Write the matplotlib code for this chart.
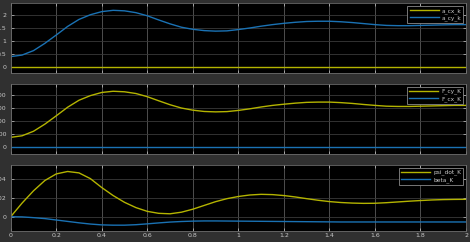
"""Scope-style figure: accelerations, forces and yaw rate / slip angle."""

import numpy as np
import matplotlib
matplotlib.use('Agg')
import matplotlib.pyplot as plt

# -----------------------------------------------------------------------------
# Data (step 0.05 s)
# -----------------------------------------------------------------------------
t = np.round(np.arange(0, 2.0001, 0.05), 2)

a_cx_k = [0.0] * 41
a_cy_k = [0.39, 0.45, 0.62, 0.90, 1.22, 1.55, 1.82, 2.00, 2.12, 2.17,
          2.15, 2.08, 1.96, 1.80, 1.65, 1.52, 1.44, 1.39, 1.37, 1.38,
          1.43, 1.49, 1.56, 1.62, 1.67, 1.71, 1.74, 1.75, 1.75, 1.73,
          1.70, 1.66, 1.62, 1.59, 1.58, 1.58, 1.59, 1.60, 1.61, 1.62, 1.62]

F_cy_K = [760, 880, 1220, 1760, 2390, 3040, 3570, 3920, 4160, 4250,
          4210, 4080, 3840, 3530, 3230, 2980, 2820, 2720, 2690, 2710,
          2800, 2920, 3060, 3180, 3270, 3350, 3410, 3430, 3430, 3390,
          3330, 3250, 3180, 3120, 3100, 3100, 3120, 3140, 3160, 3180, 3180]
F_cx_K = [0.0] * 41

psi_dot_K = [0.0, 0.0145, 0.0275, 0.0385, 0.0455, 0.0481, 0.0466, 0.0405, 0.0310, 0.0225,
             0.0153, 0.0097, 0.0057, 0.0036, 0.0031, 0.0048, 0.0080, 0.0120, 0.0160, 0.0192,
             0.0215, 0.0231, 0.0238, 0.0235, 0.0225, 0.0210, 0.0192, 0.0175, 0.0161, 0.0151,
             0.0145, 0.0142, 0.0143, 0.0149, 0.0157, 0.0165, 0.0172, 0.0178, 0.0182,
             0.0184, 0.0185]
beta_K = [0.0, -0.0002, -0.001, -0.002, -0.0035, -0.005, -0.0065, -0.0078, -0.0087,
          -0.009, -0.009, -0.0085, -0.0076, -0.0066, -0.0057, -0.0051, -0.0047, -0.0045,
          -0.0045, -0.0046, -0.0047, -0.0048, -0.0049, -0.005, -0.0051, -0.0052,
          -0.0053, -0.0054, -0.0055, -0.0056, -0.0056, -0.0056, -0.0056, -0.0056,
          -0.0056, -0.0056, -0.0056, -0.0056, -0.0056, -0.0056, -0.0056]

x_ticks = [0, 0.2, 0.4, 0.6, 0.8, 1.0, 1.2, 1.4, 1.6, 1.8, 2.0]
x_labels = ['0', '0.2', '0.4', '0.6', '0.8', '1', '1.2', '1.4', '1.6', '1.8', '2']

# -----------------------------------------------------------------------------
# Style
# -----------------------------------------------------------------------------
AMARILLO = '#b4b400'
AZUL = '#1a72b4'
FONDO_FIG = '#303030'
GRIS_TXT = '#c8c8c8'

W, H = 470, 242
fig = plt.figure(figsize=(W / 100, H / 100), dpi=100, facecolor=FONDO_FIG)


def panel(x0, y0, x1, y1):
    """Axes from pixel box (top-left origin)."""
    return fig.add_axes([x0 / W, 1 - y1 / H, (x1 - x0) / W, (y1 - y0) / H])


paneles = [
    (panel(10.7, 3.3, 466.0, 73.0), (a_cx_k, a_cy_k), ('a_cx_k', 'a_cy_k'),
     (-0.24, 2.44), [0, 0.5, 1, 1.5, 2], ['0', '0.5', '1', '1.5', '2']),
    (panel(10.7, 84.0, 466.0, 154.0), (F_cy_K, F_cx_K), ('F_cy_K', 'F_cx_K'),
     (-500, 4800), [0, 1000, 2000, 3000, 4000], ['0', '1000', '2000', '3000', '4000']),
    (panel(10.7, 165.0, 466.0, 231.0), (psi_dot_K, beta_K), ('psi_dot_K', 'beta_K'),
     (-0.0152, 0.055), [0, 0.02, 0.04], ['0', '0.02', '0.04']),
]

for i, (ax, series, nombres, ylim, yt, ytl) in enumerate(paneles):
    ax.set_facecolor('black')
    for serie, nombre, color in zip(series, nombres, [AMARILLO, AZUL]):
        ax.plot(t, serie, color=color, linewidth=1.0, label=nombre,
                solid_joinstyle='round')

    ax.set_xlim(0, 2)
    ax.set_ylim(*ylim)
    ax.set_xticks(x_ticks)
    ax.set_yticks(yt)
    ax.set_yticklabels(ytl)
    if i == 2:
        ax.set_xticklabels(x_labels)
    else:
        ax.set_xticklabels([])

    ax.tick_params(colors=GRIS_TXT, labelsize=4.5, direction='in', length=2,
                   width=0.5, top=True, right=True, pad=1.5)
    ax.tick_params(axis='y', pad=3)
    ax.xaxis.grid(True, color='#5a5a5a', linewidth=0.6)
    ax.yaxis.grid(True, color='#3a3a3a', linewidth=0.6)
    ax.set_axisbelow(True)
    for s in ax.spines.values():
        s.set_color('#6a6a6a')
        s.set_linewidth(0.6)

    leg = ax.legend(loc='upper right', fontsize=4.2, frameon=True,
                    facecolor='black', edgecolor='#8a8a8a', handlelength=5.0,
                    borderpad=0.35, labelspacing=0.25, handletextpad=0.5,
                    borderaxespad=0.45, framealpha=1.0, fancybox=False)
    leg.get_frame().set_linewidth(0.6)
    for txt in leg.get_texts():
        txt.set_color(GRIS_TXT)

fig.savefig('out.png', dpi=100, facecolor=FONDO_FIG)
plt.close(fig)
